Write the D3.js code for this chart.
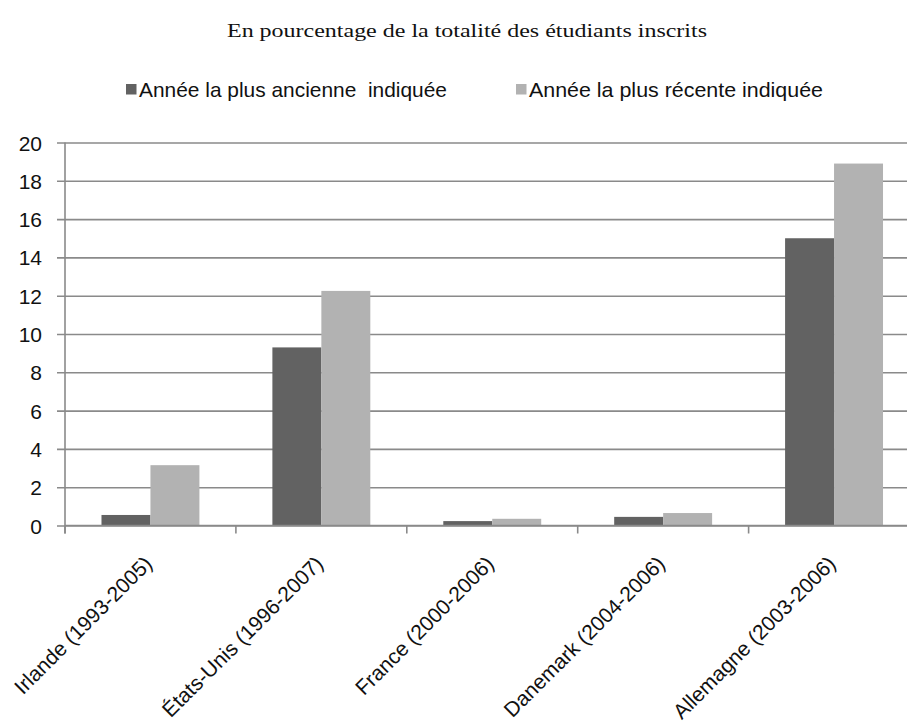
<!DOCTYPE html>
<html>
<head>
<meta charset="utf-8">
<script src="https://cdn.jsdelivr.net/npm/d3@7"></script>
<style>
  html, body { margin: 0; padding: 0; background: #fff; }
  svg { display: block; }
</style>
</head>
<body>
<svg id="chart" width="907" height="725"></svg>
<script>
// Students enrolled, as a share of all enrolled students (%)
const categories = [
  "Irlande (1993-2005)",
  "États-Unis (1996-2007)",
  "France (2000-2006)",
  "Danemark (2004-2006)",
  "Allemagne (2003-2006)"
];
const seriesNames = ["Année la plus ancienne  indiquée", "Année la plus récente indiquée"];
const earliest = [0.55, 9.3, 0.23, 0.45, 15.0];
const latest = [3.15, 12.25, 0.35, 0.65, 18.9];
const yTicks = [0, 2, 4, 6, 8, 10, 12, 14, 16, 18, 20];
const title = "En pourcentage de la totalité des étudiants inscrits";

const colors = ["#626262", "#b2b2b2"];
const axisColor = "#8a8a8a";
const sans = "'Liberation Sans', Arial, sans-serif";
const svg = d3.select("#chart");

const plotLeft = 65, plotRight = 919.5, plotTop = 142.5, plotBottom = 525.5;

const x0 = d3.scaleBand().domain(categories).range([plotLeft, plotRight])
  .paddingInner(0.427).paddingOuter(0.2135);
const x1 = d3.scaleBand().domain([0, 1]).range([0, x0.bandwidth()]);
const y = d3.scaleLinear().domain([0, 20]).range([plotBottom, plotTop]);

// Title
svg.append("text")
  .attr("x", 467).attr("y", 37)
  .attr("text-anchor", "middle")
  .attr("font-family", "'Liberation Serif', 'Times New Roman', serif")
  .attr("font-size", 19)
  .attr("textLength", 480).attr("lengthAdjust", "spacingAndGlyphs")
  .attr("fill", "#111")
  .text(title);

// Legend
const legendX = [126, 516];
const legendW = [308, 294];
seriesNames.forEach((name, i) => {
  const g = svg.append("g").attr("transform", `translate(${legendX[i]},84)`);
  g.append("rect").attr("width", 10.5).attr("height", 10.5).attr("fill", colors[i]);
  g.append("text").attr("x", 13).attr("y", 12.5)
    .attr("font-family", sans)
    .attr("font-size", 21).attr("fill", "#111")
    .attr("textLength", legendW[i]).attr("lengthAdjust", "spacingAndGlyphs")
    .style("white-space", "pre")
    .text(name);
});

// Horizontal gridlines + y axis
const yAxis = d3.axisLeft(y).tickValues(yTicks).tickSize(-(907 - plotLeft)).tickPadding(23).tickFormat(d3.format("d"));
const gy = svg.append("g").attr("transform", `translate(${plotLeft},0)`).call(yAxis);
gy.select(".domain").remove();
gy.selectAll(".tick line").attr("x1", -8).attr("stroke", axisColor).attr("stroke-width", 1.6);
gy.selectAll(".tick text")
  .attr("font-family", sans)
  .attr("font-size", 21).attr("fill", "#111").attr("dy", "0.36em");

// Bars
const groups = svg.append("g").selectAll("g").data(categories).join("g")
  .attr("transform", d => `translate(${x0(d)},0)`);
groups.selectAll("rect")
  .data((d, i) => [earliest[i], latest[i]].map((v, s) => ({ v, s })))
  .join("rect")
  .attr("x", d => x1(d.s))
  .attr("width", x1.bandwidth())
  .attr("y", d => y(d.v))
  .attr("height", d => y(0) - y(d.v))
  .attr("fill", d => colors[d.s]);

// Vertical axis line
svg.append("line").attr("x1", plotLeft).attr("x2", plotLeft).attr("y1", plotTop).attr("y2", plotBottom + 8)
  .attr("stroke", axisColor).attr("stroke-width", 1.6);
// Category axis with tick marks between groups
svg.append("line").attr("x1", plotLeft).attr("x2", 907).attr("y1", plotBottom).attr("y2", plotBottom)
  .attr("stroke", axisColor).attr("stroke-width", 1.6);
const step = x0.step();
svg.append("g").selectAll("line").data(categories).join("line")
  .attr("x1", d => x0(d) - x0.paddingInner() * step / 2)
  .attr("x2", d => x0(d) - x0.paddingInner() * step / 2)
  .attr("y1", plotBottom).attr("y2", plotBottom + 8)
  .attr("stroke", axisColor).attr("stroke-width", 1.6);

// Category labels, rotated
svg.append("g").selectAll("text").data(categories).join("text")
  .attr("transform", d => `translate(${x0(d) + x0.bandwidth() / 2 + 3},565) rotate(-45)`)
  .attr("text-anchor", "end")
  .attr("font-family", sans)
  .attr("font-size", 21).attr("fill", "#111")
  .text(d => d);
</script>
</body>
</html>
